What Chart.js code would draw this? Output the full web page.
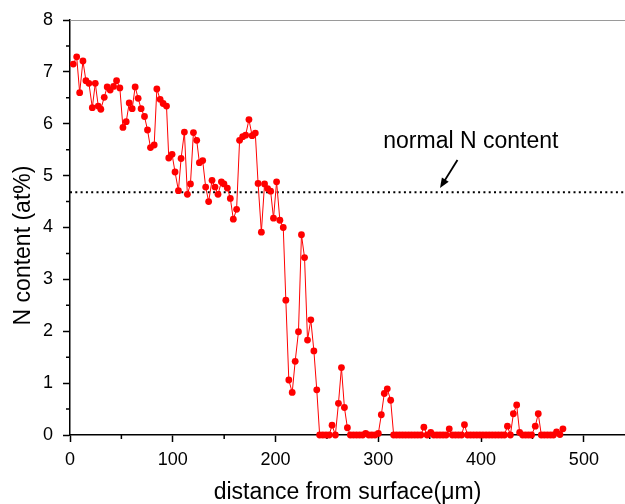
<!DOCTYPE html>
<html>
<head>
<meta charset="utf-8">
<script src="https://cdn.jsdelivr.net/npm/chart.js@4/dist/chart.umd.min.js"></script>
<style>
html,body{margin:0;padding:0;background:#fff;}
#wrap{width:625px;height:504px;position:relative;}
</style>
</head>
<body>
<div id="wrap"><canvas id="c" width="625" height="504"></canvas></div>
<script>
// distance from surface (µm)
const distance = [
  3.2, 6.5, 9.4, 12.6, 15.5, 18.4, 21.7, 24.6, 27.5, 30.0,
  33.3, 36.2, 39.1, 42.4, 45.3, 48.5, 51.5, 54.7, 57.6, 60.5,
  63.4, 66.3, 69.2, 72.5, 75.4, 78.3, 81.9, 84.5, 87.7, 90.6,
  93.9, 96.1, 99.3, 102.2, 105.5, 108.1, 111.3, 114.2, 117.2, 120.1,
  123.3, 125.9, 129.1, 132.0, 134.9, 138.2, 141.1, 144.0, 147.3, 149.8,
  153.1, 156.0, 158.9, 162.1, 165.0, 168.0, 170.9, 174.1, 177.2, 180.3,
  183.0, 186.2, 189.3, 192.3, 195.2, 198.0, 201.0, 204.2, 207.5, 210.0,
  212.9, 216.2, 219.1, 222.3, 225.2, 228.2, 231.1, 234.3, 237.3, 240.1,
  242.9, 246.0, 249.1, 252.2, 255.0, 258.2, 261.2, 264.1, 267.0, 269.9,
  272.8, 275.8, 278.8, 281.8, 284.8, 287.7, 290.7, 293.7, 296.8, 300.0,
  302.9, 305.8, 308.7, 312.0, 314.9, 317.8, 320.8, 323.7, 326.6, 329.6,
  332.5, 335.5, 338.4, 341.4, 344.3, 347.5, 351.0, 354.0, 357.0, 360.0,
  363.0, 366.0, 369.0, 372.0, 375.0, 378.0, 381.0, 383.8, 386.8, 389.8,
  392.8, 395.8, 398.8, 401.8, 404.8, 407.8, 410.8, 413.8, 416.8, 419.8,
  422.7, 425.6, 428.5, 431.4, 434.6, 437.5, 440.4, 443.3, 446.2, 449.1,
  452.7, 455.6, 458.6, 461.5, 464.5, 467.5, 470.4, 473.4, 476.7, 479.6
];
// N content (at%)
const nContent = [
  7.15, 7.29, 6.60, 7.21, 6.83, 6.78, 6.31, 6.78, 6.34, 6.28,
  6.51, 6.71, 6.65, 6.72, 6.83, 6.69, 5.93, 6.04, 6.40, 6.29,
  6.71, 6.49, 6.29, 6.14, 5.88, 5.54, 5.59, 6.67, 6.47, 6.39,
  6.34, 5.34, 5.41, 5.07, 4.71, 5.33, 5.84, 4.64, 4.84, 5.83,
  5.68, 5.25, 5.29, 4.78, 4.50, 4.91, 4.78, 4.64, 4.88, 4.84,
  4.76, 4.56, 4.16, 4.35, 5.68, 5.75, 5.78, 6.08, 5.77, 5.82,
  4.85, 3.91, 4.84, 4.75, 4.70, 4.18, 4.88, 4.14, 4.00, 2.60,
  1.06, 0.82, 1.42, 1.99, 3.86, 3.42, 1.83, 2.22, 1.62, 0.87,
  0, 0, 0, 0, 0.19, 0, 0.61, 1.30, 0.53, 0.14,
  0, 0, 0, 0, 0, 0.03, 0, 0, 0, 0.03,
  0.39, 0.80, 0.89, 0.67, 0, 0, 0, 0, 0, 0,
  0, 0, 0, 0, 0.15, 0, 0.05, 0, 0, 0,
  0, 0, 0.12, 0, 0, 0, 0, 0.20, 0, 0,
  0, 0, 0, 0, 0, 0, 0, 0, 0, 0,
  0, 0.17, 0, 0.41, 0.58, 0.05, 0, 0, 0, 0,
  0.17, 0.41, 0, 0, 0, 0, 0, 0.06, 0.01, 0.12
];
const xTicks = [0, 100, 200, 300, 400, 500];
const yTicks = [0, 1, 2, 3, 4, 5, 6, 7, 8];
const xTitle = 'distance from surface(\u03bcm)';
const yTitle = 'N content (at%)';
const normalLevel = 4.68;
const noteText = 'normal N content';
const notePos = [390, 5.65];
const arrowFrom = [377, 5.3];
const arrowTo = [360, 4.76];

const FONT = '"Liberation Sans", Arial, sans-serif';

const points = distance.map((d, i) => ({x: d, y: nContent[i]}));

const decor = {
  id: 'decor',
  beforeDatasetsDraw(chart) {
    const {ctx, chartArea: ca, scales: {x, y}} = chart;
    ctx.save();
    // top frame line
    ctx.strokeStyle = '#9a9a9a';
    ctx.lineWidth = 1.2;
    ctx.beginPath();
    ctx.moveTo(ca.left, ca.top + 0.5);
    ctx.lineTo(ca.right, ca.top + 0.5);
    ctx.stroke();
    // normal level dotted line
    const yl = y.getPixelForValue(normalLevel);
    ctx.strokeStyle = '#000';
    ctx.lineWidth = 2;
    ctx.setLineDash([2, 3.3]);
    ctx.beginPath();
    ctx.moveTo(ca.left, yl);
    ctx.lineTo(ca.right, yl);
    ctx.stroke();
    ctx.setLineDash([]);
    // minor ticks
    ctx.lineWidth = 1.5;
    ctx.beginPath();
    for (let v = 0.5; v < 8; v += 1) {
      const p = y.getPixelForValue(v);
      ctx.moveTo(ca.left, p);
      ctx.lineTo(ca.left - 4, p);
    }
    for (let v = 50; v < 540; v += 100) {
      const p = x.getPixelForValue(v);
      ctx.moveTo(p, ca.bottom);
      ctx.lineTo(p, ca.bottom + 4);
    }
    ctx.stroke();
    // y axis title (placed as in the original, slightly below centre)
    ctx.fillStyle = '#000';
    ctx.font = '23px ' + FONT;
    ctx.textAlign = 'center';
    ctx.textBaseline = 'middle';
    ctx.translate(24, (ca.top + ca.bottom) / 2 + 18);
    ctx.rotate(-Math.PI / 2);
    ctx.fillText(yTitle, 0, 0);
    ctx.restore();
  },
  afterDatasetsDraw(chart) {
    const {ctx, scales: {x, y}} = chart;
    ctx.save();
    ctx.fillStyle = '#000';
    ctx.font = '23px ' + FONT;
    ctx.textAlign = 'center';
    ctx.textBaseline = 'middle';
    ctx.fillText(noteText, x.getPixelForValue(notePos[0]), y.getPixelForValue(notePos[1]));
    const x1 = x.getPixelForValue(arrowFrom[0]), y1 = y.getPixelForValue(arrowFrom[1]);
    const x2 = x.getPixelForValue(arrowTo[0]), y2 = y.getPixelForValue(arrowTo[1]);
    const ang = Math.atan2(y2 - y1, x2 - x1);
    const hl = 10, hw = 4;
    ctx.strokeStyle = '#000';
    ctx.lineWidth = 1.8;
    ctx.beginPath();
    ctx.moveTo(x1, y1);
    ctx.lineTo(x2 - Math.cos(ang) * hl * 0.8, y2 - Math.sin(ang) * hl * 0.8);
    ctx.stroke();
    ctx.beginPath();
    ctx.moveTo(x2, y2);
    ctx.lineTo(x2 - Math.cos(ang) * hl - Math.sin(ang) * hw, y2 - Math.sin(ang) * hl + Math.cos(ang) * hw);
    ctx.lineTo(x2 - Math.cos(ang) * hl + Math.sin(ang) * hw, y2 - Math.sin(ang) * hl - Math.cos(ang) * hw);
    ctx.closePath();
    ctx.fill();
    ctx.restore();
  }
};

new Chart(document.getElementById('c'), {
  type: 'scatter',
  data: {
    datasets: [{
      data: points,
      showLine: true,
      borderColor: '#ff0000',
      borderWidth: 1,
      backgroundColor: '#ff0000',
      pointBackgroundColor: '#ff0000',
      pointBorderColor: '#ff0000',
      pointBorderWidth: 0,
      pointRadius: 3.4,
      tension: 0,
      clip: false
    }]
  },
  options: {
    responsive: false,
    animation: false,
    devicePixelRatio: 1,
    layout: {autoPadding: false, padding: {top: 20, right: 0, left: 0, bottom: 0}},
    plugins: {legend: {display: false}, tooltip: {enabled: false}},
    scales: {
      x: {
        type: 'linear',
        min: 0, max: 540,
        afterFit(s) { s.height = 69; s.paddingLeft = 0; s.paddingRight = 0; },
        afterBuildTicks(s) { s.ticks = xTicks.map(v => ({value: v})); },
        border: {color: '#000', width: 1.5},
        grid: {display: true, drawOnChartArea: false, drawTicks: true, tickLength: 7, tickColor: '#000', tickWidth: 1.5},
        ticks: {color: '#000', font: {family: FONT, size: 18}, padding: 7, maxRotation: 0},
        title: {display: true, text: xTitle, color: '#000', font: {family: FONT, size: 23}, padding: {top: 0, bottom: -2}}
      },
      y: {
        type: 'linear',
        min: 0, max: 8,
        afterFit(s) { s.width = 70; s.paddingTop = 0; s.paddingBottom = 0; },
        afterBuildTicks(s) { s.ticks = yTicks.map(v => ({value: v})); },
        border: {color: '#000', width: 1.5},
        grid: {display: true, drawOnChartArea: false, drawTicks: true, tickLength: 7, tickColor: '#000', tickWidth: 1.5},
        ticks: {color: '#000', font: {family: FONT, size: 18}, padding: 10},
        title: {display: false}
      }
    }
  },
  plugins: [decor]
});
</script>
</body>
</html>
